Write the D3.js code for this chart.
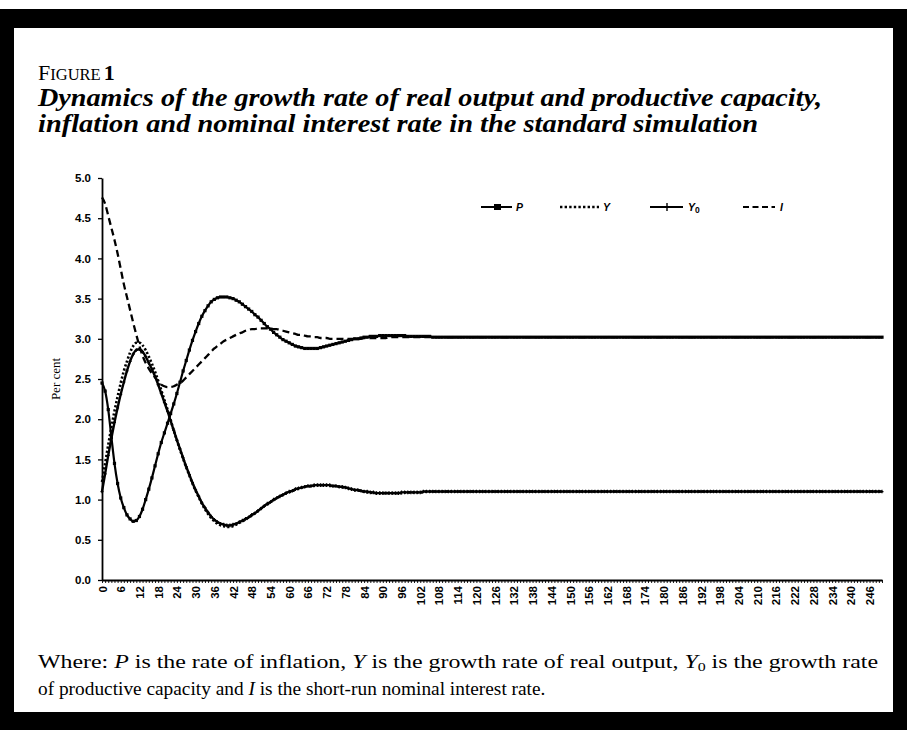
<!DOCTYPE html>
<html><head><meta charset="utf-8">
<script src="https://cdn.jsdelivr.net/npm/d3@7"></script>
<style>body{margin:0;background:#fff}svg{display:block}</style>
</head><body>
<svg id="c" width="907" height="730"></svg>
<script>
// ---------- DATA (per-period values) ----------
const P = [
2.45,2.35,2.12,1.78,1.45,1.20,1.02,0.90,0.81,0.76,
0.73,0.74,0.79,0.88,1.00,1.13,1.27,1.42,1.57,1.71,
1.83,1.95,2.07,2.19,2.32,2.46,2.60,2.73,2.86,2.98,
3.09,3.19,3.28,3.35,3.41,3.46,3.49,3.51,3.52,3.52,
3.52,3.51,3.50,3.48,3.46,3.43,3.40,3.37,3.34,3.30,
3.27,3.23,3.19,3.15,3.12,3.08,3.05,3.02,2.99,2.97,
2.95,2.93,2.91,2.90,2.89,2.88,2.88,2.88,2.88,2.88,
2.89,2.90,2.91,2.92,2.93,2.94,2.95,2.96,2.97,2.98,
2.99,3.00,3.00,3.01,3.02,3.02,3.03,3.03,3.03,3.04,
3.04,3.04,3.04,3.04,3.04,3.04,3.04,3.04,3.03,3.03,
3.03,3.03,3.03,3.03,3.03,3.03,3.02,3.02,3.02,3.02,
3.02,3.02,3.02,3.02,3.02,3.02,3.02,3.02,3.02,3.02,
3.02,3.02,3.02,3.02,3.02,3.02,3.02,3.02,3.02,3.02,
3.02,3.02,3.02,3.02,3.02,3.02,3.02,3.02,3.02,3.02,
3.02,3.02,3.02,3.02,3.02,3.02,3.02,3.02,3.02,3.02,
3.02,3.02,3.02,3.02,3.02,3.02,3.02,3.02,3.02,3.02,
3.02,3.02,3.02,3.02,3.02,3.02,3.02,3.02,3.02,3.02,
3.02,3.02,3.02,3.02,3.02,3.02,3.02,3.02,3.02,3.02,
3.02,3.02,3.02,3.02,3.02,3.02,3.02,3.02,3.02,3.02,
3.02,3.02,3.02,3.02,3.02,3.02,3.02,3.02,3.02,3.02,
3.02,3.02,3.02,3.02,3.02,3.02,3.02,3.02,3.02,3.02,
3.02,3.02,3.02,3.02,3.02,3.02,3.02,3.02,3.02,3.02,
3.02,3.02,3.02,3.02,3.02,3.02,3.02,3.02,3.02,3.02,
3.02,3.02,3.02,3.02,3.02,3.02,3.02,3.02,3.02,3.02,
3.02,3.02,3.02,3.02,3.02,3.02,3.02,3.02,3.02,3.02,
3.02
];
const Y = [
1.22,1.45,1.68,1.90,2.10,2.28,2.45,2.60,2.72,2.83,
2.91,2.95,2.95,2.92,2.86,2.78,2.69,2.59,2.48,2.36,
2.24,2.12,1.99,1.86,1.74,1.62,1.51,1.40,1.30,1.20,
1.11,1.03,0.95,0.88,0.82,0.77,0.73,0.70,0.68,0.67,
0.66,0.66,0.67,0.69,0.71,0.73,0.75,0.78,0.80,0.83,
0.86,0.89,0.92,0.94,0.97,0.99,1.02,1.04,1.06,1.08,
1.09,1.11,1.12,1.14,1.15,1.16,1.16,1.17,1.17,1.18,
1.18,1.18,1.18,1.17,1.17,1.17,1.16,1.15,1.15,1.14,
1.13,1.12,1.11,1.11,1.10,1.09,1.09,1.08,1.08,1.08,
1.08,1.08,1.08,1.08,1.08,1.08,1.08,1.09,1.09,1.09,
1.09,1.09,1.09,1.09,1.10,1.10,1.10,1.10,1.10,1.10,
1.10,1.10,1.10,1.10,1.10,1.10,1.10,1.10,1.10,1.10,
1.10,1.10,1.10,1.10,1.10,1.10,1.10,1.10,1.10,1.10,
1.10,1.10,1.10,1.10,1.10,1.10,1.10,1.10,1.10,1.10,
1.10,1.10,1.10,1.10,1.10,1.10,1.10,1.10,1.10,1.10,
1.10,1.10,1.10,1.10,1.10,1.10,1.10,1.10,1.10,1.10,
1.10,1.10,1.10,1.10,1.10,1.10,1.10,1.10,1.10,1.10,
1.10,1.10,1.10,1.10,1.10,1.10,1.10,1.10,1.10,1.10,
1.10,1.10,1.10,1.10,1.10,1.10,1.10,1.10,1.10,1.10,
1.10,1.10,1.10,1.10,1.10,1.10,1.10,1.10,1.10,1.10,
1.10,1.10,1.10,1.10,1.10,1.10,1.10,1.10,1.10,1.10,
1.10,1.10,1.10,1.10,1.10,1.10,1.10,1.10,1.10,1.10,
1.10,1.10,1.10,1.10,1.10,1.10,1.10,1.10,1.10,1.10,
1.10,1.10,1.10,1.10,1.10,1.10,1.10,1.10,1.10,1.10,
1.10,1.10,1.10,1.10,1.10,1.10,1.10,1.10,1.10,1.10,
1.10
];
const Y0 = [
1.10,1.32,1.55,1.76,1.96,2.14,2.31,2.46,2.60,2.72,
2.81,2.86,2.87,2.84,2.78,2.70,2.62,2.53,2.43,2.32,
2.21,2.10,1.98,1.86,1.74,1.63,1.52,1.41,1.31,1.21,
1.12,1.04,0.96,0.90,0.84,0.79,0.75,0.72,0.70,0.69,
0.68,0.68,0.69,0.70,0.72,0.74,0.76,0.78,0.81,0.83,
0.86,0.89,0.92,0.95,0.97,1.00,1.02,1.04,1.06,1.08,
1.10,1.11,1.13,1.14,1.15,1.16,1.17,1.17,1.18,1.18,
1.18,1.18,1.18,1.18,1.17,1.17,1.16,1.16,1.15,1.14,
1.13,1.12,1.12,1.11,1.10,1.10,1.09,1.09,1.08,1.08,
1.08,1.08,1.08,1.08,1.08,1.08,1.09,1.09,1.09,1.09,
1.09,1.09,1.09,1.10,1.10,1.10,1.10,1.10,1.10,1.10,
1.10,1.10,1.10,1.10,1.10,1.10,1.10,1.10,1.10,1.10,
1.10,1.10,1.10,1.10,1.10,1.10,1.10,1.10,1.10,1.10,
1.10,1.10,1.10,1.10,1.10,1.10,1.10,1.10,1.10,1.10,
1.10,1.10,1.10,1.10,1.10,1.10,1.10,1.10,1.10,1.10,
1.10,1.10,1.10,1.10,1.10,1.10,1.10,1.10,1.10,1.10,
1.10,1.10,1.10,1.10,1.10,1.10,1.10,1.10,1.10,1.10,
1.10,1.10,1.10,1.10,1.10,1.10,1.10,1.10,1.10,1.10,
1.10,1.10,1.10,1.10,1.10,1.10,1.10,1.10,1.10,1.10,
1.10,1.10,1.10,1.10,1.10,1.10,1.10,1.10,1.10,1.10,
1.10,1.10,1.10,1.10,1.10,1.10,1.10,1.10,1.10,1.10,
1.10,1.10,1.10,1.10,1.10,1.10,1.10,1.10,1.10,1.10,
1.10,1.10,1.10,1.10,1.10,1.10,1.10,1.10,1.10,1.10,
1.10,1.10,1.10,1.10,1.10,1.10,1.10,1.10,1.10,1.10,
1.10,1.10,1.10,1.10,1.10,1.10,1.10,1.10,1.10,1.10,
1.10
];
const I = [
4.76,4.68,4.53,4.38,4.23,4.06,3.87,3.68,3.52,3.36,
3.20,3.05,2.91,2.79,2.70,2.63,2.57,2.52,2.47,2.43,
2.41,2.40,2.40,2.41,2.43,2.45,2.48,2.52,2.56,2.60,
2.64,2.68,2.72,2.76,2.80,2.84,2.88,2.91,2.94,2.97,
2.99,3.01,3.03,3.05,3.07,3.08,3.10,3.11,3.12,3.12,
3.13,3.13,3.13,3.13,3.13,3.12,3.12,3.11,3.10,3.09,
3.08,3.07,3.06,3.05,3.05,3.04,3.03,3.03,3.02,3.02,
3.01,3.01,3.01,3.00,3.00,3.00,3.00,3.00,3.00,3.00,
3.00,3.00,3.00,3.00,3.01,3.01,3.01,3.01,3.01,3.01,
3.01,3.01,3.02,3.02,3.02,3.02,3.02,3.02,3.02,3.02,
3.02,3.02,3.02,3.02,3.02,3.02,3.02,3.02,3.02,3.02,
3.02,3.02,3.02,3.02,3.02,3.02,3.02,3.02,3.02,3.02,
3.02,3.02,3.02,3.02,3.02,3.02,3.02,3.02,3.02,3.02,
3.02,3.02,3.02,3.02,3.02,3.02,3.02,3.02,3.02,3.02,
3.02,3.02,3.02,3.02,3.02,3.02,3.02,3.02,3.02,3.02,
3.02,3.02,3.02,3.02,3.02,3.02,3.02,3.02,3.02,3.02,
3.02,3.02,3.02,3.02,3.02,3.02,3.02,3.02,3.02,3.02,
3.02,3.02,3.02,3.02,3.02,3.02,3.02,3.02,3.02,3.02,
3.02,3.02,3.02,3.02,3.02,3.02,3.02,3.02,3.02,3.02,
3.02,3.02,3.02,3.02,3.02,3.02,3.02,3.02,3.02,3.02,
3.02,3.02,3.02,3.02,3.02,3.02,3.02,3.02,3.02,3.02,
3.02,3.02,3.02,3.02,3.02,3.02,3.02,3.02,3.02,3.02,
3.02,3.02,3.02,3.02,3.02,3.02,3.02,3.02,3.02,3.02,
3.02,3.02,3.02,3.02,3.02,3.02,3.02,3.02,3.02,3.02,
3.02,3.02,3.02,3.02,3.02,3.02,3.02,3.02,3.02,3.02,
3.02
];
const yTickValues = [0.0,0.5,1.0,1.5,2.0,2.5,3.0,3.5,4.0,4.5,5.0];
const xTickLabels = [0,6,12,18,24,30,36,42,48,54,60,66,72,78,84,90,96,102,108,114,120,
  126,132,138,144,150,156,162,168,174,180,186,192,198,204,210,216,222,228,234,240,246];
const legendNames = ["P","Y","Y0","I"];

// ---------- DRAWING ----------
const svg = d3.select("#c");
svg.append("rect").attr("x",0).attr("y",0).attr("width",907).attr("height",730).attr("fill","#fff");
svg.append("rect").attr("x",0).attr("y",9).attr("width",907).attr("height",721).attr("fill","#000");
svg.append("rect").attr("x",14).attr("y",28).attr("width",879).attr("height",684).attr("fill","#fff");

const serif = "'Liberation Serif','DejaVu Serif',serif";
const sans = "'Liberation Sans','Arial',sans-serif";

// Title
const t0 = svg.append("text").attr("x",38).attr("y",80).attr("font-family",serif).attr("fill","#000");
t0.append("tspan").attr("font-size",22).text("F");
t0.append("tspan").attr("font-size",16.5).text("IGURE");
t0.append("tspan").attr("font-size",22).attr("font-weight","bold").attr("dx",3).text("1");

svg.append("text").attr("x",38).attr("y",106).attr("font-family",serif)
  .attr("font-size",24.5).attr("font-weight","bold").attr("font-style","italic")
  .attr("textLength",784).attr("lengthAdjust","spacingAndGlyphs")
  .text("Dynamics of the growth rate of real output and productive capacity,");
svg.append("text").attr("x",38).attr("y",132).attr("font-family",serif)
  .attr("font-size",24.5).attr("font-weight","bold").attr("font-style","italic")
  .attr("textLength",720).attr("lengthAdjust","spacingAndGlyphs")
  .text("inflation and nominal interest rate in the standard simulation");

// Scales
const x = d3.scaleLinear().domain([0, P.length - 1]).range([102, 882]);
const y = d3.scaleLinear().domain([0, 5]).range([580, 178]);

// Axes
const gy = svg.append("g").attr("transform","translate(102,0)")
  .call(d3.axisLeft(y).tickValues(yTickValues).tickSize(4).tickSizeOuter(0).tickFormat(d3.format(".1f")));
gy.select(".domain").attr("stroke","#000").attr("stroke-width",1.8);
gy.selectAll(".tick line").attr("stroke","#000").attr("stroke-width",1.3);
gy.selectAll(".tick text").attr("font-family",sans).attr("font-weight","bold").attr("font-size",11.5).attr("x",-11).attr("fill","#000");

const gx = svg.append("g").attr("transform","translate(0,580)")
  .call(d3.axisBottom(x).tickValues(d3.range(0, P.length)).tickSize(3).tickSizeOuter(0)
    .tickFormat(d => xTickLabels.includes(d) ? String(d) : ""));
gx.select(".domain").attr("stroke","#000").attr("stroke-width",1.8);
gx.selectAll(".tick line").attr("stroke","#000").attr("stroke-width",0.9);
gx.selectAll(".tick text").attr("font-family","'Liberation Sans Narrow','Liberation Sans',sans-serif")
  .attr("font-weight","bold").attr("font-size",11.5).attr("fill","#000")
  .attr("transform","rotate(-90)").attr("x",-6).attr("y",0).attr("dy","0.35em")
  .style("text-anchor","end");

// Y axis title
svg.append("text").attr("transform","translate(60,379) rotate(-90)")
  .attr("text-anchor","middle").attr("font-family",serif).attr("font-size",13).text("Per cent");

// Lines
const line = d3.line().x((d,i) => x(i)).y(d => y(d)).curve(d3.curveMonotoneX);
const g = svg.append("g");
g.append("path").datum(I).attr("d",line).attr("fill","none").attr("stroke","#000")
  .attr("stroke-width",2.3).attr("stroke-dasharray","7,4");
g.append("path").datum(P).attr("d",line).attr("fill","none").attr("stroke","#000").attr("stroke-width",2.2);
g.selectAll(".pm").data(P).join("rect").attr("class","pm")
  .attr("x",(d,i)=>x(i)-1.6).attr("y",d=>y(d)-1.6).attr("width",3.2).attr("height",3.2).attr("fill","#000");
g.append("path").datum(Y0).attr("d",line).attr("fill","none").attr("stroke","#000").attr("stroke-width",2.4);
g.selectAll(".ym").data(Y0).join("path").attr("class","ym")
  .attr("d",(d,i)=>`M${x(i)-1.5},${y(d)}H${x(i)+1.5}M${x(i)},${y(d)-1.8}V${y(d)+1.8}`)
  .attr("stroke","#000").attr("stroke-width",1.2);
g.append("path").datum(Y).attr("d",line).attr("fill","none").attr("stroke","#000")
  .attr("stroke-width",2.6).attr("stroke-dasharray","2.2,2");

// Legend
const ly = 207;
const leg = svg.append("g").attr("font-family",sans).attr("font-weight","bold").attr("font-style","italic").attr("font-size",10.5);
// P
leg.append("line").attr("x1",481).attr("x2",512).attr("y1",ly).attr("y2",ly).attr("stroke","#000").attr("stroke-width",2);
leg.append("rect").attr("x",494).attr("y",ly-3).attr("width",7).attr("height",6).attr("fill","#000");
leg.append("text").attr("x",516).attr("y",ly+4).text(legendNames[0]);
// Y
leg.append("line").attr("x1",560).attr("x2",599).attr("y1",ly).attr("y2",ly).attr("stroke","#000").attr("stroke-width",2.6).attr("stroke-dasharray","2.4,2.2");
leg.append("text").attr("x",603).attr("y",ly+4).text(legendNames[1]);
// Y0
leg.append("line").attr("x1",650).attr("x2",683).attr("y1",ly).attr("y2",ly).attr("stroke","#000").attr("stroke-width",2);
leg.append("line").attr("x1",667).attr("x2",667).attr("y1",ly-4).attr("y2",ly+4).attr("stroke","#000").attr("stroke-width",1.4);
const ly0 = leg.append("text").attr("x",688).attr("y",ly+4).text("Y");
ly0.append("tspan").attr("font-size",8.5).attr("dy",2).attr("font-style","normal").text("0");
// I
leg.append("line").attr("x1",743).attr("x2",775).attr("y1",ly).attr("y2",ly).attr("stroke","#000").attr("stroke-width",2.2).attr("stroke-dasharray","6,3.5");
leg.append("text").attr("x",780).attr("y",ly+4).text(legendNames[3]);

// Footnote
const fs = 19.5;
const f1 = svg.append("text").attr("x",38).attr("y",668).attr("font-family",serif).attr("font-size",fs)
  .attr("textLength",840).attr("lengthAdjust","spacingAndGlyphs");
f1.append("tspan").text("Where: ");
f1.append("tspan").attr("font-style","italic").text("P");
f1.append("tspan").text(" is the rate of inflation, ");
f1.append("tspan").attr("font-style","italic").text("Y");
f1.append("tspan").text(" is the growth rate of real output, ");
f1.append("tspan").attr("font-style","italic").text("Y");
f1.append("tspan").attr("font-size",13).attr("dy",3).text("0");
f1.append("tspan").attr("dy",-3).text(" is the growth rate");

const f2 = svg.append("text").attr("font-family",serif).attr("font-size",fs);
f2.append("tspan").text("of productive capacity and ");
f2.append("tspan").attr("font-style","italic").text("I");
f2.append("tspan").text(" is the short-run nominal interest rate.");
const n2 = f2.node().getComputedTextLength();
f2.attr("transform",`translate(38,695) scale(${508 / n2},1)`);
</script>
</body></html>
